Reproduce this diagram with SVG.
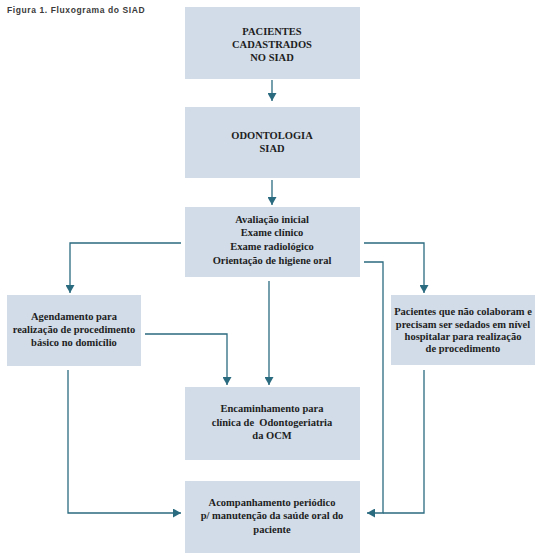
<svg xmlns="http://www.w3.org/2000/svg" width="543" height="557" viewBox="0 0 543 557">
<style>
.box{fill:#d1dce8}
.t{font-family:"Liberation Serif",serif;font-weight:bold;font-size:10.5px;fill:#1e1e1e;text-anchor:middle;white-space:pre}
.c{fill:none;stroke:#2b6b80;stroke-width:1.3}
.title{font-family:"Liberation Sans",sans-serif;font-size:8.5px;font-weight:bold;fill:#3a3a3a;letter-spacing:0.6px}
</style>
<defs>
<marker id="ah" markerWidth="9" markerHeight="9" refX="8" refY="4.5" orient="auto" markerUnits="userSpaceOnUse">
<path d="M0,0 L8,4.5 L0,9 Z" fill="#2b6b80"/>
</marker>
</defs>
<rect width="543" height="557" fill="#fff"/>
<text class="title" x="7" y="13">Figura 1. Fluxograma do SIAD</text>

<g id="n1"><rect class="box" x="185" y="7" width="175" height="72"/>
<text class="t" x="272" y="35">PACIENTES</text><text class="t" x="272" y="48">CADASTRADOS</text><text class="t" x="272" y="61">NO SIAD</text></g>
<g id="n2"><rect class="box" x="185" y="107" width="175" height="71"/>
<text class="t" x="272" y="139">ODONTOLOGIA</text><text class="t" x="272" y="152">SIAD</text></g>
<g id="n3"><rect class="box" x="185" y="207" width="175" height="70"/>
<text class="t" x="272" y="223">Avaliação inicial</text><text class="t" x="272" y="236">Exame clínico</text><text class="t" x="272" y="250">Exame radiológico</text><text class="t" x="272" y="264">Orientação de higiene oral</text></g>
<g id="n4"><rect class="box" x="7" y="295" width="134" height="71"/>
<text class="t" x="74" y="320">Agendamento para</text><text class="t" x="74" y="333">realização de procedimento</text><text class="t" x="74" y="346">básico no domicílio</text></g>
<g id="n5"><rect class="box" x="391" y="295" width="144" height="70"/>
<text class="t" x="463" y="315">Pacientes que não colaboram e</text><text class="t" x="463" y="328">precisam ser sedados em nível</text><text class="t" x="463" y="340">hospitalar para realização</text><text class="t" x="463" y="352">de procedimento</text></g>
<g id="n6"><rect class="box" x="185" y="387" width="175" height="73"/>
<text class="t" x="272" y="412">Encaminhamento para</text><text class="t" x="272" y="426" xml:space="preserve">clínica de  Odontogeriatria</text><text class="t" x="272" y="439">da OCM</text></g>
<g id="n7"><rect class="box" x="185" y="481" width="175" height="72"/>
<text class="t" x="272" y="506">Acompanhamento periódico</text><text class="t" x="272" y="519">p/ manutenção da saúde oral do</text><text class="t" x="272" y="533">paciente</text></g>

<g id="connectors">
<path class="c" d="M272,80 V101" marker-end="url(#ah)"/>
<path class="c" d="M272,180 V205" marker-end="url(#ah)"/>
<path class="c" d="M181,243 H70 V293" marker-end="url(#ah)"/>
<path class="c" d="M364,243 H424 V293" marker-end="url(#ah)"/>
<path class="c" d="M364,262 H383 V513 H367" marker-end="url(#ah)"/>
<path class="c" d="M424,370 V513 H383"/>
<path class="c" d="M269,281 V385" marker-end="url(#ah)"/>
<path class="c" d="M145,334 H227 V385" marker-end="url(#ah)"/>
<path class="c" d="M68,370 V513 H181" marker-end="url(#ah)"/>
</g>
</svg>
